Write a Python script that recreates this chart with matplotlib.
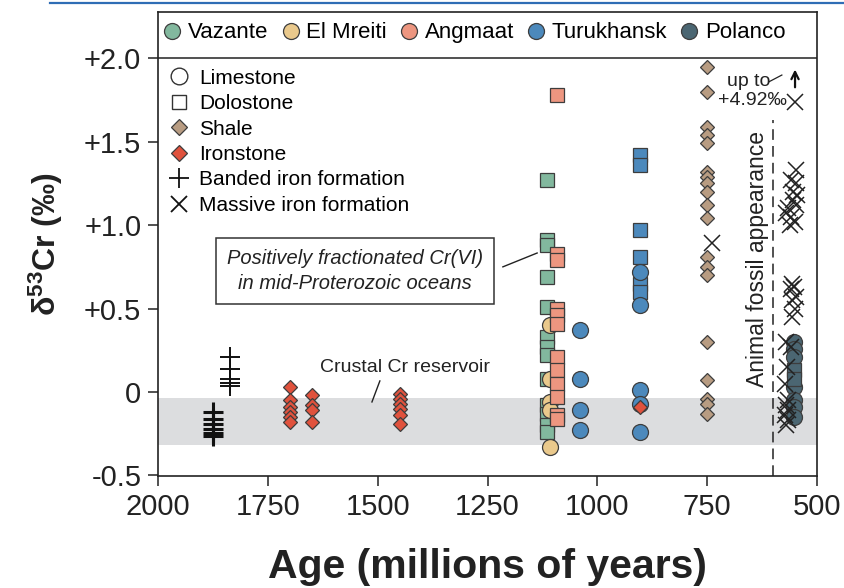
import matplotlib
matplotlib.use('Agg')
import matplotlib.pyplot as plt
from matplotlib.lines import Line2D
import numpy as np

plt.rcParams['font.family'] = ['Liberation Sans', 'DejaVu Sans']
plt.rcParams['mathtext.fontset'] = 'custom'
plt.rcParams['mathtext.rm'] = 'Liberation Sans'
plt.rcParams['mathtext.bf'] = 'Liberation Sans:bold'
plt.rcParams['mathtext.it'] = 'Liberation Sans:italic'

# ---------------- data ----------------
basins = ["Vazante", "El Mreiti", "Angmaat", "Turukhansk", "Polanco"]
basin_colors = ["#82b89e", "#eac98c", "#ed9680", "#4c89bc", "#4b6672"]
lithologies = ["Limestone", "Dolostone", "Shale", "Ironstone",
               "Banded iron formation", "Massive iron formation"]

x_ticks = [2000, 1750, 1500, 1250, 1000, 750, 500]
y_ticks = [-0.5, 0, 0.5, 1.0, 1.5, 2.0]
y_ticklabels = ["-0.5", "0", "+0.5", "+1.0", "+1.5", "+2.0"]

# Vazante dolostone (~1115 Ma)
vazante_dolo_age = 1115
vazante_dolo = [1.27, 0.91, 0.88, 0.69, 0.51, 0.33, 0.27, 0.22, 0.08,
                -0.08, -0.13, -0.20, -0.24]
# El Mreiti limestone (~1108 Ma)
elmreiti_lime_age = 1108
elmreiti_lime = [0.40, 0.08, -0.06, -0.11, -0.33]
# Angmaat dolostone (~1092 Ma)
angmaat_dolo_age = 1092
angmaat_dolo = [1.78, 0.83, 0.79, 0.50, 0.46, 0.41, 0.21, 0.13, 0.05,
                -0.03, -0.14, -0.16]
# Turukhansk
turuk_lime_age_a = 1040
turuk_lime_a = [0.37, 0.08, -0.11, -0.23]
turuk_age_b = 903
turuk_dolo_b = [1.42, 1.36, 0.97, 0.81, 0.65, 0.60]
turuk_lime_b = [0.72, 0.52, 0.01, -0.07, -0.24]
turuk_iron_b = [-0.09]
# Polanco (~552 Ma)
polanco_age = 552
polanco_lime = [0.30, 0.26, 0.21, 0.03, -0.05, -0.09, -0.15]
polanco_dolo = [0.13, 0.08]
# Shale (~750 Ma)
shale_age = 750
shale = [1.95, 1.80, 1.59, 1.54, 1.49, 1.32, 1.29, 1.25, 1.20, 1.12,
         1.04, 0.81, 0.75, 0.70, 0.30, 0.07, -0.04, -0.07, -0.13]
# Ironstone
iron_ages = [1700, 1650, 1450]
iron_vals = [[0.03, -0.05, -0.09, -0.12, -0.15, -0.18],
             [-0.02, -0.08, -0.11, -0.18],
             [-0.01, -0.04, -0.07, -0.10, -0.14, -0.19]]
# Banded iron formation
bif_ages = [1875, 1836]
bif_vals = [[-0.12, -0.16, -0.19, -0.22, -0.245, -0.265],
            [0.21, 0.14, 0.08, 0.055, 0.035]]
# Massive iron formation (age, value)
mif_ages = [550, 548, 560, 548, 555, 545, 565, 570, 555, 548, 560, 550, 562,
            556, 552, 560, 548, 558, 550, 557,
            570, 560, 568, 572, 566, 570, 565, 572, 566, 570, 740]
mif_vals = [1.74, 1.33, 1.27, 1.25, 1.20, 1.18, 1.10, 1.07, 1.15, 1.12, 1.05, 1.02, 1.00,
            0.65, 0.63, 0.62, 0.57, 0.55, 0.50, 0.45,
            0.30, 0.27, 0.15, 0.05, -0.05, -0.08, -0.11, -0.14, -0.17, -0.20, 0.89]

crustal_band = (-0.318, -0.036)
fossil_age = 600

# --------------- styles ----------------
EC = "#3d3d3d"
SHALE_C = "#b89c82"
IRON_C = "#e0523d"
MS_CIRC = 11.5
MS_SQ = 9.5
MS_D = 7.2

fig = plt.figure(figsize=(8.45, 5.88), dpi=100)
ax = fig.add_axes([158/845, 1-476/588, 659/845, 464/588])
ax.set_xlim(2000, 500)
ax.set_ylim(-0.504, 2.278)

ax.axhspan(*crustal_band, color="#dcdddf", zorder=0, lw=0)
ax.axhline(2.0, color="#222222", lw=1.1, zorder=5)

def pts(age, vals, marker, fc, ms, z=3, ec=EC, mew=0.9):
    ax.plot(np.full(len(vals), age), vals, linestyle='none', marker=marker,
            mfc=fc, mec=ec, ms=ms, mew=mew, zorder=z)

# 1100 cluster
pts(vazante_dolo_age, vazante_dolo, 's', basin_colors[0], MS_SQ, 3)
pts(elmreiti_lime_age, elmreiti_lime, 'o', basin_colors[1], MS_CIRC, 3.2)
pts(angmaat_dolo_age, angmaat_dolo, 's', basin_colors[2], MS_SQ, 3.4)
# Turukhansk
pts(turuk_lime_age_a, turuk_lime_a, 'o', basin_colors[3], MS_CIRC, 3)
pts(turuk_age_b, turuk_dolo_b, 's', basin_colors[3], MS_SQ, 3)
pts(turuk_age_b, turuk_lime_b, 'o', basin_colors[3], MS_CIRC, 3.2)
pts(turuk_age_b, turuk_iron_b, 'D', IRON_C, MS_D, 3.4)
# Shale
pts(shale_age, shale, 'D', SHALE_C, MS_D, 3)
# Ironstone
for a, v in zip(iron_ages, iron_vals):
    pts(a, v, 'D', IRON_C, MS_D, 3)
# Polanco
pts(polanco_age, polanco_lime, 'o', basin_colors[4], MS_CIRC, 3)
pts(polanco_age, polanco_dolo, 's', basin_colors[4], MS_SQ, 3)
# BIF
for a, v, w in zip(bif_ages, bif_vals, [2.2, 1.4]):
    ax.plot(np.full(len(v), a), v, linestyle='none', marker='+', color='#111111',
            ms=14, mew=w, zorder=4)
# MIF
ax.plot(mif_ages, mif_vals, linestyle='none', marker='x', color='#222222',
        ms=11, mew=1.1, zorder=4)

# fossil line
ax.plot([fossil_age, fossil_age], [-0.504, 1.63], color='#222222', lw=1.1,
        ls=(0, (7, 4)), zorder=2)
ax.text(636, 0.80, "Animal fossil appearance", rotation=90, ha='center',
        va='center', fontsize=16.5, color='#222222')

# annotations
ax.text(1438, 0.145, "Crustal Cr reservoir", ha='center', va='center',
        fontsize=14, color='#222222')
ax.plot([1495, 1513], [0.066, -0.06], color='#222222', lw=1)
ax.text(1552, 0.725, "Positively fractionated Cr(VI)\nin mid-Proterozoic oceans",
        ha='center', va='center', fontsize=14.5, style='italic', color='#222222',
        linespacing=1.35,
        bbox=dict(boxstyle='square,pad=0.55', fc='white', ec='#333333', lw=1.1))
ax.plot([1215, 1137], [0.75, 0.833], color='#222222', lw=1)

ax.text(605, 1.86, "up to", ha='right', va='center', fontsize=14, color='#222222')
ax.text(568, 1.745, "+4.92‰", ha='right', va='center', fontsize=14, color='#222222')
ax.plot([609, 580], [1.86, 1.90], color='#222222', lw=0.9)
ax.annotate("", xy=(550, 1.95), xytext=(550, 1.81),
            arrowprops=dict(arrowstyle='->', color='#111111', lw=1.6,
                            mutation_scale=13))

# top legend (basins)
h1 = [Line2D([], [], ls='none', marker='o', mfc=c, mec=EC, ms=11.5, mew=0.9)
      for c in basin_colors]
leg1 = ax.legend(h1, basins, ncol=5, loc='center left', bbox_to_anchor=(0.01, 0.955),
                 frameon=False, fontsize=16, handlelength=0.7, handletextpad=0.35,
                 columnspacing=0.65, borderaxespad=0, borderpad=0)
ax.add_artist(leg1)

# lithology legend
h2 = [Line2D([], [], ls='none', marker='o', mfc='white', mec='#333333', ms=12, mew=1.0),
      Line2D([], [], ls='none', marker='s', mfc='white', mec='#333333', ms=10, mew=1.0),
      Line2D([], [], ls='none', marker='D', mfc=SHALE_C, mec=EC, ms=8, mew=0.9),
      Line2D([], [], ls='none', marker='D', mfc=IRON_C, mec=EC, ms=8, mew=0.9),
      Line2D([], [], ls='none', marker='+', color='#111111', ms=14, mew=1.3),
      Line2D([], [], ls='none', marker='x', color='#111111', ms=11, mew=1.3)]
ax.legend(h2, lithologies, loc='upper left', bbox_to_anchor=(0.016, 0.878),
          frameon=False, fontsize=15, handlelength=1.0, handletextpad=0.45,
          labelspacing=0.31, borderaxespad=0, borderpad=0)

# axes styling
ax.set_xticks(x_ticks)
ax.set_xticklabels([str(t) for t in x_ticks])
ax.set_yticks(y_ticks)
ax.set_yticklabels(y_ticklabels)
for s in ax.spines.values():
    s.set_linewidth(1.2)
    s.set_color('#222222')
ax.tick_params(axis='both', direction='out', length=7, width=1.1,
               labelsize=21, colors='#222222', pad=5)
ax.set_xlabel("Age (millions of years)", fontsize=29.5, fontweight='bold',
              color='#222222', labelpad=20)
ax.set_ylabel(r"δ$^{\mathbf{53}}$Cr (‰)", fontsize=23, fontweight='bold',
              color='#222222', labelpad=14)

fig.add_artist(Line2D([50/845, 1.0], [1-3/588, 1-3/588], color='#2f6db5', lw=1.6))

fig.savefig("out.png", dpi=100)
